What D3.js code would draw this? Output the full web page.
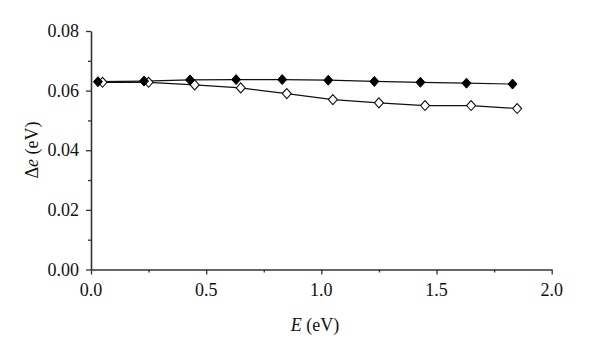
<!DOCTYPE html>
<html><head><meta charset="utf-8">
<script src="https://cdn.jsdelivr.net/npm/d3@7"></script>
<style>body{margin:0;background:#fff}svg{display:block}</style>
</head><body>
<svg id="c" width="600" height="357"></svg>
<script>
const filledX = [0.03, 0.23, 0.43, 0.63, 0.83, 1.03, 1.23, 1.43, 1.63, 1.83];
const filledY = [0.0630, 0.0632, 0.0636, 0.0637, 0.0637, 0.0635, 0.0631, 0.0628, 0.0625, 0.0622];
const openX = [0.05, 0.25, 0.45, 0.65, 0.85, 1.05, 1.25, 1.45, 1.65, 1.85];
const openY = [0.0628, 0.0628, 0.0619, 0.0609, 0.0590, 0.0570, 0.0559, 0.0550, 0.0550, 0.0540];
const xTicks = [0, 0.5, 1.0, 1.5, 2.0];
const xMinor = [0.25, 0.75, 1.25, 1.75];
const yTicks = [0, 0.02, 0.04, 0.06, 0.08];
const yMinor = [0.01, 0.03, 0.05, 0.07];

const svg = d3.select('#c');
const x = d3.scaleLinear().domain([0, 2]).range([91, 551.7]);
const y = d3.scaleLinear().domain([0, 0.08]).range([269.5, 31]);
const axisCol = '#333';
const FONT = "'Liberation Serif', serif";
const fs = '18px';

function label(g, x0, y0, txt, anchor, base) {
  return g.append('text').attr('x', x0).attr('y', y0).attr('text-anchor', anchor)
    .attr('dominant-baseline', base).style('font-family', FONT).style('font-size', fs)
    .attr('fill', '#111').text(txt);
}

// minor ticks
svg.append('g').attr('transform', 'translate(0,269.5)')
  .call(d3.axisBottom(x).tickValues(xMinor).tickSize(3).tickFormat(''))
  .call(g => { g.select('.domain').remove(); g.selectAll('text').remove(); g.selectAll('line').attr('stroke', axisCol).attr('stroke-width', 1.3); });
svg.append('g').attr('transform', 'translate(91,0)')
  .call(d3.axisLeft(y).tickValues(yMinor).tickSize(3).tickFormat(''))
  .call(g => { g.select('.domain').remove(); g.selectAll('text').remove(); g.selectAll('line').attr('stroke', axisCol).attr('stroke-width', 1.3); });

// major axes (lines only), labels drawn separately
const xa = svg.append('g').attr('transform', 'translate(0,269.5)')
  .call(d3.axisBottom(x).tickValues(xTicks).tickSize(5).tickSizeOuter(0).tickFormat(''));
const ya = svg.append('g').attr('transform', 'translate(91,0)')
  .call(d3.axisLeft(y).tickValues(yTicks).tickSize(5).tickSizeOuter(0).tickFormat(''));
[xa, ya].forEach(g => {
  g.selectAll('text').remove();
  g.select('.domain').attr('stroke', axisCol).attr('stroke-width', 1.6);
  g.selectAll('line').attr('stroke', axisCol).attr('stroke-width', 1.3);
});

const labels = svg.append('g');
xTicks.forEach(v => label(labels, x(v), 296, d3.format('.1f')(v), 'middle', 'auto'));
yTicks.forEach(v => label(labels, 79, y(v) + 6, d3.format('.2f')(v), 'end', 'auto'));

const xt = svg.append('text').attr('x', 315).attr('y', 331).attr('text-anchor', 'middle')
  .style('font-family', FONT).style('font-size', fs).attr('fill', '#111');
xt.append('tspan').style('font-style', 'italic').text('E');
xt.append('tspan').text(' (eV)');
const yt = svg.append('text').attr('transform', 'translate(38,150) rotate(-90)').attr('text-anchor', 'middle')
  .style('font-family', FONT).style('font-size', fs).attr('fill', '#111');
yt.append('tspan').text('Δ');
yt.append('tspan').style('font-style', 'italic').text('e');
yt.append('tspan').text(' (eV)');

const line = d3.line().x(d => x(d[0])).y(d => y(d[1]));
const openPts = openX.map((v, i) => [v, openY[i]]);
const filledPts = filledX.map((v, i) => [v, filledY[i]]);
const diamond = 'M0,-5L4.5,0L0,5L-4.5,0Z';

svg.append('path').datum(openPts).attr('d', line).attr('fill', 'none').attr('stroke', '#111').attr('stroke-width', 1.2);
svg.append('path').datum(filledPts).attr('d', line).attr('fill', 'none').attr('stroke', '#111').attr('stroke-width', 1.2);

svg.append('g').selectAll('path').data(openPts).join('path')
  .attr('transform', d => `translate(${x(d[0])},${y(d[1])})`).attr('d', diamond)
  .attr('fill', '#fff').attr('stroke', '#111').attr('stroke-width', 1.1);
svg.append('g').selectAll('path').data(filledPts).join('path')
  .attr('transform', d => `translate(${x(d[0])},${y(d[1])})`).attr('d', diamond)
  .attr('fill', '#000').attr('stroke', '#000').attr('stroke-width', 1);
</script>
</body></html>
